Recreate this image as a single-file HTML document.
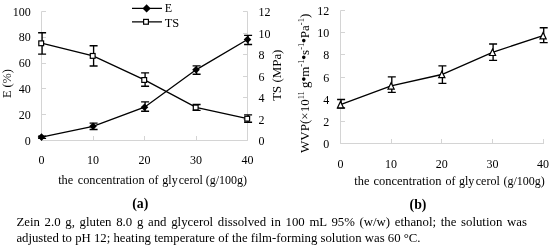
<!DOCTYPE html>
<html><head><meta charset="utf-8"><title>figure</title>
<style>html,body{margin:0;padding:0;background:#fff;}body{width:550px;height:246px;overflow:hidden;position:relative;}.cap{position:absolute;left:16.4px;font-family:"Liberation Serif",serif;font-size:12.8px;line-height:16px;color:#000;white-space:nowrap;}</style></head>
<body>
<svg width="550" height="246" viewBox="0 0 550 246" style="position:absolute;left:0;top:0">
<g font-family="'Liberation Serif', serif" font-size="12" fill="#000">
<g stroke="#d4d4d4" stroke-width="1" fill="none">
<path d="M41.5 11.5V140.5H247.5V11.5"/>
<path d="M41.5 140.5h4.5"/>
<path d="M41.5 114.5h4.5"/>
<path d="M41.5 88.5h4.5"/>
<path d="M41.5 63.5h4.5"/>
<path d="M41.5 37.5h4.5"/>
<path d="M41.5 11.5h4.5"/>
<path d="M247.5 140.5h-4.5"/>
<path d="M247.5 119.5h-4.5"/>
<path d="M247.5 97.5h-4.5"/>
<path d="M247.5 76.5h-4.5"/>
<path d="M247.5 54.5h-4.5"/>
<path d="M247.5 33.5h-4.5"/>
<path d="M247.5 11.5h-4.5"/>
<path d="M41.5 140.5v-4.5"/>
<path d="M93.5 140.5v-4.5"/>
<path d="M144.5 140.5v-4.5"/>
<path d="M196.5 140.5v-4.5"/>
<path d="M247.5 140.5v-4.5"/>
<path d="M340.5 10.5V143.5H544"/>
<path d="M340.5 143.5h4.5"/>
<path d="M340.5 121.5h4.5"/>
<path d="M340.5 99.5h4.5"/>
<path d="M340.5 77.5h4.5"/>
<path d="M340.5 54.5h4.5"/>
<path d="M340.5 32.5h4.5"/>
<path d="M340.5 10.5h4.5"/>
<path d="M340.5 143.5v-4.5"/>
<path d="M391.5 143.5v-4.5"/>
<path d="M441.5 143.5v-4.5"/>
<path d="M492.5 143.5v-4.5"/>
<path d="M543.5 143.5v-4.5"/>
</g>
<text x="30.7" y="144.5" text-anchor="end">0</text>
<text x="30.7" y="118.7" text-anchor="end">20</text>
<text x="30.7" y="92.9" text-anchor="end">40</text>
<text x="30.7" y="67.1" text-anchor="end">60</text>
<text x="30.7" y="41.3" text-anchor="end">80</text>
<text x="30.7" y="15.5" text-anchor="end">100</text>
<text x="258.4" y="145.0">0</text>
<text x="258.4" y="123.5">2</text>
<text x="258.4" y="102.0">4</text>
<text x="258.4" y="80.5">6</text>
<text x="258.4" y="59.0">8</text>
<text x="258.4" y="37.5">10</text>
<text x="258.4" y="16.0">12</text>
<text x="41.5" y="164" text-anchor="middle">0</text>
<text x="93.0" y="164" text-anchor="middle">10</text>
<text x="144.5" y="164" text-anchor="middle">20</text>
<text x="196.0" y="164" text-anchor="middle">30</text>
<text x="247.5" y="164" text-anchor="middle">40</text>
<text x="329.2" y="148.1" text-anchor="end">0</text>
<text x="329.2" y="125.9" text-anchor="end">2</text>
<text x="329.2" y="103.8" text-anchor="end">4</text>
<text x="329.2" y="81.6" text-anchor="end">6</text>
<text x="329.2" y="59.4" text-anchor="end">8</text>
<text x="329.2" y="37.3" text-anchor="end">10</text>
<text x="329.2" y="15.1" text-anchor="end">12</text>
<text x="340.5" y="168" text-anchor="middle">0</text>
<text x="391.1" y="168" text-anchor="middle">10</text>
<text x="441.8" y="168" text-anchor="middle">20</text>
<text x="492.5" y="168" text-anchor="middle">30</text>
<text x="543.1" y="168" text-anchor="middle">40</text>
<text y="184.2" font-size="12"><tspan x="58.2" textLength="15.1" lengthAdjust="spacingAndGlyphs">the</tspan><tspan x="77.7" textLength="66.9" lengthAdjust="spacingAndGlyphs">concentration</tspan><tspan x="148.6">of</tspan><tspan x="162.3">gly</tspan><tspan x="178.8">cerol</tspan><tspan x="205.7">(g/100g)</tspan></text>
<text y="185.0" font-size="12"><tspan x="354.3" textLength="15.1" lengthAdjust="spacingAndGlyphs">the</tspan><tspan x="373.5" textLength="67.9" lengthAdjust="spacingAndGlyphs">concentration</tspan><tspan x="445.4">of</tspan><tspan x="459.0">gly</tspan><tspan x="475.8">cerol</tspan><tspan x="503.4">(g/100g)</tspan></text>
<text x="140.3" y="208.4" text-anchor="middle" font-weight="bold" font-size="13.8">(a)</text>
<text x="418" y="208.5" text-anchor="middle" font-weight="bold" font-size="13.8">(b)</text>
<text transform="translate(11.3,83.6) rotate(-90)" text-anchor="middle" font-size="12.3">E (%)</text>
<text transform="translate(280.5,75.2) rotate(-90)" text-anchor="middle" font-size="12.9">TS (MPa)</text>
<text transform="translate(308.5,83.3) rotate(-90)" text-anchor="middle" font-size="13">WVP(×10<tspan font-size="8.5" dy="-4.5">11</tspan><tspan dy="4.5"> g</tspan><tspan font-size="15.5" dx="-0.4" dy="0.9">•</tspan><tspan dx="-0.4" dy="-0.9">m</tspan><tspan font-size="8.5" dy="-4.5">-1</tspan><tspan font-size="15.5" dx="-0.4" dy="5.4">•</tspan><tspan dx="-0.4" dy="-0.9">s</tspan><tspan font-size="8.5" dy="-4.5">-1</tspan><tspan font-size="15.5" dx="-0.4" dy="5.4">•</tspan><tspan dx="-0.4" dy="-0.9">Pa</tspan><tspan font-size="8.5" dy="-4.5">-1</tspan><tspan dy="4.5">)</tspan></text>
<text x="164.7" y="12.1">E</text>
<text x="164.7" y="26.6" font-size="12.4">TS</text>
</g>
<g stroke="#000" stroke-width="1.35" fill="none">
<path d="M42.1 136.1V138.4M38.1 136.1h8.0M38.1 138.4h8.0"/>
<path d="M93.6 123.1V129.5M89.6 123.1h8.0M89.6 129.5h8.0"/>
<path d="M145.1 101.9V111.2M141.1 101.9h8.0M141.1 111.2h8.0"/>
<path d="M196.6 65.8V74.2M192.6 65.8h8.0M192.6 74.2h8.0"/>
<path d="M248.1 35.4V44.5M244.1 35.4h8.0M244.1 44.5h8.0"/>
<path d="M42.1 32.7V54.1M38.1 32.7h8.0M38.1 54.1h8.0"/>
<path d="M93.6 45.7V66.0M89.6 45.7h8.0M89.6 66.0h8.0"/>
<path d="M145.1 72.8V86.2M141.1 72.8h8.0M141.1 86.2h8.0"/>
<path d="M196.6 104.5V110.4M192.6 104.5h8.0M192.6 110.4h8.0"/>
<path d="M248.1 114.9V122.2M244.1 114.9h8.0M244.1 122.2h8.0"/>
<path d="M341.1 99.5V108.0M337.1 99.5h8.0M337.1 108.0h8.0"/>
<path d="M391.8 76.8V92.3M387.8 76.8h8.0M387.8 92.3h8.0"/>
<path d="M442.4 65.9V83.3M438.4 65.9h8.0M438.4 83.3h8.0"/>
<path d="M493.1 44.0V60.4M489.1 44.0h8.0M489.1 60.4h8.0"/>
<path d="M543.7 27.7V42.6M539.7 27.7h8.0M539.7 42.6h8.0"/>
<polyline points="41.5,137.1 93.0,126.3 144.5,107.2 196.0,69.8 247.5,39.5"/>
<polyline points="41.5,43.2 93.0,55.8 144.5,79.9 196.0,107.4 247.5,118.6"/>
<polyline points="340.5,104.7 391.1,85.9 441.8,74.5 492.5,52.3 543.1,35.7"/>
<path d="M132 8.4H162M132 21.9H162"/>
</g>
<path d="M37.7 137.1L41.5 133.3L45.3 137.1L41.5 140.9Z" fill="#000"/>
<path d="M89.2 126.3L93.0 122.5L96.8 126.3L93.0 130.1Z" fill="#000"/>
<path d="M140.7 107.2L144.5 103.4L148.3 107.2L144.5 111.0Z" fill="#000"/>
<path d="M192.2 69.8L196.0 66.0L199.8 69.8L196.0 73.6Z" fill="#000"/>
<path d="M243.7 39.5L247.5 35.7L251.3 39.5L247.5 43.3Z" fill="#000"/>
<rect x="38.8" y="40.9" width="4.8" height="4.8" fill="#fff" stroke="#000" stroke-width="1.2"/>
<rect x="90.3" y="53.5" width="4.8" height="4.8" fill="#fff" stroke="#000" stroke-width="1.2"/>
<rect x="141.8" y="77.6" width="4.8" height="4.8" fill="#fff" stroke="#000" stroke-width="1.2"/>
<rect x="193.3" y="105.1" width="4.8" height="4.8" fill="#fff" stroke="#000" stroke-width="1.2"/>
<rect x="244.8" y="116.3" width="4.8" height="4.8" fill="#fff" stroke="#000" stroke-width="1.2"/>
<path d="M340.5 101.5L343.6 107.9H337.4Z" fill="#fff" stroke="#000" stroke-width="1.2"/>
<path d="M391.1 82.7L394.2 89.1H388.0Z" fill="#fff" stroke="#000" stroke-width="1.2"/>
<path d="M441.8 71.3L444.9 77.7H438.7Z" fill="#fff" stroke="#000" stroke-width="1.2"/>
<path d="M492.5 49.1L495.6 55.5H489.4Z" fill="#fff" stroke="#000" stroke-width="1.2"/>
<path d="M543.1 32.5L546.2 38.9H540.0Z" fill="#fff" stroke="#000" stroke-width="1.2"/>
<path d="M142.5 8.4L146.6 4.3L150.7 8.4L146.6 12.5Z" fill="#000"/>
<rect x="143.6" y="19.4" width="4.8" height="4.8" fill="#fff" stroke="#000" stroke-width="1.2"/>
</svg>
<div class="cap" style="top:213.5px;width:510.5px;text-align:justify;text-align-last:justify;">Zein 2.0 g, gluten 8.0 g and glycerol dissolved in 100 mL 95% (w/w) ethanol; the solution was</div><div class="cap" style="top:230.3px;font-size:12.76px;">adjusted to pH 12; heating temperature of the film-forming solution was 60 °C.</div>
</body></html>
